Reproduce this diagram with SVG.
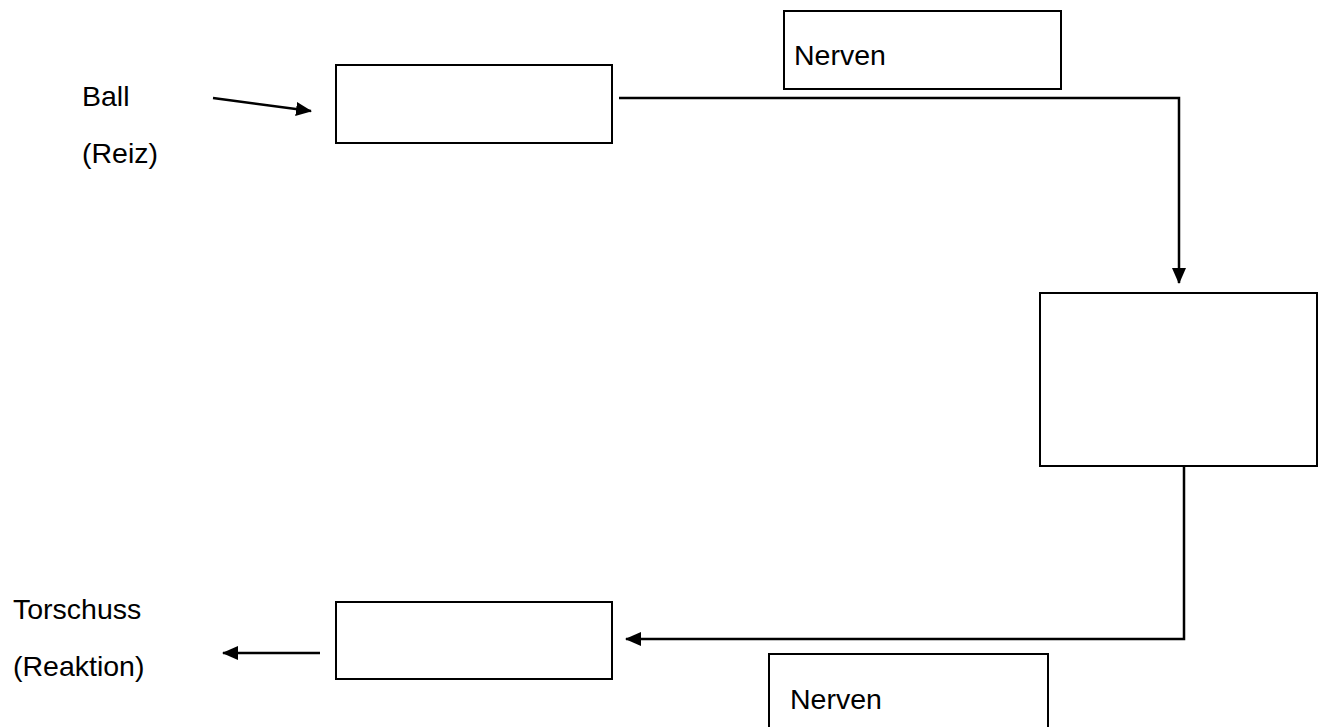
<svg xmlns="http://www.w3.org/2000/svg" width="1323" height="727" viewBox="0 0 1323 727">
<defs>
<style>
.box{fill:#fff;stroke:#000;stroke-width:2}
.ln{fill:none;stroke:#000;stroke-width:2.5}
text{font-family:"Liberation Sans",Arial,sans-serif;font-size:28.5px;fill:#000}
</style>
<marker id="ah" markerUnits="userSpaceOnUse" markerWidth="16" markerHeight="14" refX="15" refY="7" orient="auto">
<path d="M0,0 L16,7 L0,14 Z" fill="#000"/>
</marker>
</defs>
<rect width="1323" height="727" fill="#fff"/>
<g id="label-ball">
<text x="82" y="106">Ball</text>
<text x="82" y="163">(Reiz)</text>
</g>
<g id="label-torschuss">
<text x="13" y="619">Torschuss</text>
<text x="13" y="676">(Reaktion)</text>
</g>
<g id="box-receptor"><rect class="box" x="336" y="65" width="276" height="78"/></g>
<g id="box-nerven-top"><rect class="box" x="784" y="11" width="277" height="78"/><text x="794" y="65">Nerven</text></g>
<g id="box-brain"><rect class="box" x="1040" y="293" width="277" height="173"/></g>
<g id="box-effector"><rect class="box" x="336" y="602" width="276" height="77"/></g>
<g id="box-nerven-bottom"><rect class="box" x="769" y="654" width="279" height="80"/><text x="790" y="709">Nerven</text></g>
<g id="connectors">
<line class="ln" x1="213" y1="98" x2="311" y2="111" marker-end="url(#ah)"/>
<polyline class="ln" points="619,98 1179,98 1179,283" marker-end="url(#ah)"/>
<polyline class="ln" points="1184,466 1184,639 626,639" marker-end="url(#ah)"/>
<line class="ln" x1="320" y1="653" x2="223" y2="653" marker-end="url(#ah)"/>
</g>
</svg>
